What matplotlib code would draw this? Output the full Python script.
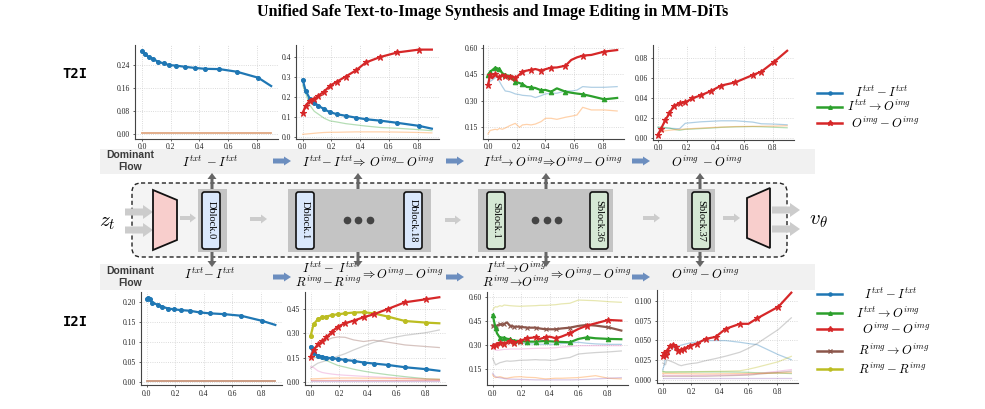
import matplotlib.pyplot as plt
from matplotlib.patches import Rectangle, FancyBboxPatch, Polygon, FancyArrow

plt.rcParams['font.family'] = 'Liberation Serif'
plt.rcParams['mathtext.fontset'] = 'cm'

W, H = 985, 409

# ---------------- data ----------------
mx = [0.0, 0.02, 0.05, 0.08, 0.11, 0.15, 0.19, 0.24, 0.30, 0.37, 0.44, 0.54, 0.66, 0.81, 0.90]

# T2I, Dblock.0
t2i_a_itxt = [0.290, 0.278, 0.267, 0.261, 0.252, 0.246, 0.240, 0.238, 0.234, 0.230, 0.227, 0.226, 0.217, 0.196, 0.167]
t2i_a_rest_x = [0.0, 0.90]
t2i_a_rest = [0.003, 0.003]

# T2I, Dblock.1-18
t2i_b_oimg = [0.120, 0.157, 0.183, 0.190, 0.208, 0.228, 0.257, 0.278, 0.303, 0.333, 0.373, 0.400, 0.423, 0.437, 0.437]
t2i_b_itxt = [0.287, 0.233, 0.192, 0.173, 0.157, 0.140, 0.125, 0.115, 0.107, 0.098, 0.090, 0.083, 0.072, 0.057, 0.043]
t2i_b_i2o = [0.260, 0.220, 0.160, 0.130, 0.115, 0.095, 0.082, 0.076, 0.068, 0.062, 0.056, 0.049, 0.045, 0.038, 0.033]
t2i_b_o2i = [0.015, 0.016, 0.018, 0.020, 0.022, 0.024, 0.025, 0.025, 0.026, 0.027, 0.027, 0.027, 0.026, 0.024, 0.022]

# T2I, Sblock.1-36
t2i_c_x = [0.0, 0.015, 0.03, 0.05, 0.065, 0.08, 0.10, 0.12, 0.15, 0.17, 0.19, 0.22, 0.24, 0.27,
           0.30, 0.33, 0.37, 0.40, 0.44, 0.48, 0.54, 0.58, 0.62, 0.66, 0.72, 0.81, 0.90]
t2i_c_marks = [0.0, 0.015, 0.05, 0.08, 0.12, 0.15, 0.19, 0.24, 0.30, 0.37, 0.44, 0.54, 0.66, 0.81]
t2i_c_oimg = [0.389, 0.447, 0.428, 0.450, 0.437, 0.433, 0.450, 0.440, 0.437, 0.440, 0.428, 0.450, 0.466, 0.472,
              0.476, 0.481, 0.472, 0.480, 0.489, 0.490, 0.500, 0.533, 0.548, 0.558, 0.562, 0.581, 0.590]
t2i_c_i2o = [0.447, 0.466, 0.475, 0.489, 0.485, 0.480, 0.457, 0.447, 0.441, 0.425, 0.409, 0.400, 0.395, 0.378,
             0.376, 0.372, 0.359, 0.361, 0.351, 0.370, 0.351, 0.345, 0.340, 0.336, 0.325, 0.307, 0.315]
t2i_c_itxt = [0.399, 0.410, 0.418, 0.430, 0.437, 0.409, 0.380, 0.355, 0.351, 0.345, 0.338, 0.334, 0.330, 0.328,
              0.326, 0.317, 0.328, 0.338, 0.342, 0.342, 0.355, 0.355, 0.360, 0.380, 0.376, 0.376, 0.380]
t2i_c_o2i = [0.108, 0.128, 0.131, 0.135, 0.132, 0.140, 0.135, 0.142, 0.155, 0.162, 0.169, 0.146, 0.160, 0.163,
             0.160, 0.165, 0.179, 0.198, 0.198, 0.192, 0.204, 0.210, 0.217, 0.261, 0.246, 0.246, 0.240]

# T2I, Sblock.37
t2i_d_x = [0.0, 0.02, 0.05, 0.08, 0.11, 0.15, 0.19, 0.24, 0.30, 0.37, 0.44, 0.54, 0.66, 0.72, 0.81, 0.90]
t2i_d_oimg = [0.0033, 0.009, 0.0177, 0.025, 0.0323, 0.035, 0.0357, 0.040, 0.043, 0.0473, 0.0527, 0.056, 0.0633, 0.0667, 0.0767, 0.0877]
t2i_d_itxt = [0.0105, 0.0102, 0.010, 0.0098, 0.0096, 0.0093, 0.0148, 0.0155, 0.0163, 0.0168, 0.0173, 0.0173, 0.016, 0.0143, 0.014, 0.0133]
t2i_d_i2o = [0.011, 0.0108, 0.0105, 0.010, 0.0088, 0.0077, 0.0088, 0.009, 0.0095, 0.010, 0.0107, 0.0112, 0.0115, 0.0113, 0.0108, 0.0103]
t2i_d_o2i = [0.005, 0.006, 0.0073, 0.0078, 0.0082, 0.0087, 0.009, 0.0095, 0.010, 0.0105, 0.011, 0.0115, 0.0117, 0.0118, 0.012, 0.0123]

# I2I, Dblock.0
i2i_a_x = [0.0, 0.01, 0.02, 0.04, 0.08, 0.11, 0.15, 0.19, 0.24, 0.30, 0.37, 0.44, 0.54, 0.66, 0.81, 0.90]
i2i_a_itxt = [0.208, 0.210, 0.206, 0.1975, 0.192, 0.1875, 0.183, 0.181, 0.179, 0.1775, 0.1733, 0.171, 0.169, 0.165, 0.152, 0.142]
i2i_a_rest_x = [0.0, 0.90]
i2i_a_rest = [0.002, 0.002]

# I2I, Dblock.1-18
i2i_b_oimg = [0.1575, 0.198, 0.233, 0.252, 0.275, 0.311, 0.342, 0.362, 0.378, 0.399, 0.417, 0.450, 0.491, 0.510, 0.522]
i2i_b_rimg = [0.286, 0.356, 0.387, 0.399, 0.403, 0.413, 0.417, 0.423, 0.428, 0.430, 0.423, 0.403, 0.376, 0.366, 0.362]
i2i_b_itxt = [0.219, 0.178, 0.164, 0.1575, 0.151, 0.147, 0.143, 0.137, 0.131, 0.121, 0.115, 0.106, 0.092, 0.080, 0.070]
i2i_b_r2o = [0.178, 0.195, 0.219, 0.240, 0.258, 0.272, 0.278, 0.276, 0.260, 0.250, 0.258, 0.246, 0.229, 0.219, 0.213]
i2i_b_gray = [0.086, 0.100, 0.117, 0.125, 0.133, 0.145, 0.160, 0.175, 0.198, 0.222, 0.244, 0.268, 0.288, 0.305, 0.321]
i2i_b_i2o = [0.158, 0.155, 0.151, 0.142, 0.133, 0.118, 0.103, 0.093, 0.080, 0.068, 0.058, 0.046, 0.034, 0.021, 0.018]
i2i_b_pink = [0.096, 0.090, 0.070, 0.060, 0.055, 0.050, 0.046, 0.043, 0.040, 0.036, 0.033, 0.029, 0.025, 0.019, 0.016]
i2i_b_o2i = [0.020, 0.021, 0.022, 0.023, 0.024, 0.025, 0.026, 0.026, 0.026, 0.025, 0.025, 0.024, 0.022, 0.019, 0.018]
i2i_b_flat_x = [0.0, 0.90]
i2i_b_purple = [0.008, 0.008]
i2i_b_salmon = [0.012, 0.012]

# I2I, Sblock.1-36
i2i_c_x = [0.0, 0.01, 0.02, 0.03, 0.05, 0.065, 0.08, 0.10, 0.12, 0.15, 0.19, 0.24, 0.30, 0.33,
           0.37, 0.40, 0.44, 0.48, 0.54, 0.60, 0.66, 0.72, 0.81, 0.90]
i2i_c_marks = [0.0, 0.02, 0.05, 0.08, 0.12, 0.15, 0.19, 0.24, 0.30, 0.37, 0.44, 0.54, 0.66, 0.81]
i2i_c_oimg = [0.295, 0.303, 0.299, 0.305, 0.310, 0.314, 0.308, 0.316, 0.324, 0.314, 0.324, 0.341, 0.347, 0.337,
              0.347, 0.351, 0.341, 0.351, 0.372, 0.399, 0.420, 0.434, 0.455, 0.451]
i2i_c_i2o = [0.486, 0.445, 0.403, 0.372, 0.345, 0.345, 0.345, 0.338, 0.335, 0.326, 0.324, 0.320, 0.320, 0.322,
             0.324, 0.322, 0.320, 0.318, 0.316, 0.337, 0.347, 0.341, 0.337, 0.335]
i2i_c_r2o = [0.420, 0.420, 0.418, 0.420, 0.428, 0.425, 0.430, 0.440, 0.420, 0.413, 0.413, 0.407, 0.407, 0.402,
             0.397, 0.397, 0.397, 0.402, 0.407, 0.418, 0.424, 0.420, 0.409, 0.389]
i2i_c_rimg = [0.517, 0.530, 0.538, 0.535, 0.544, 0.540, 0.548, 0.546, 0.544, 0.542, 0.540, 0.542, 0.544, 0.546,
              0.546, 0.548, 0.550, 0.555, 0.559, 0.579, 0.577, 0.575, 0.569, 0.565]
i2i_c_itxt = [0.310, 0.305, 0.303, 0.300, 0.303, 0.305, 0.306, 0.308, 0.310, 0.310, 0.310, 0.308, 0.305, 0.304,
              0.303, 0.303, 0.305, 0.308, 0.312, 0.316, 0.310, 0.306, 0.303, 0.303]
i2i_c_pink = [0.279, 0.272, 0.268, 0.266, 0.268, 0.270, 0.272, 0.272, 0.274, 0.274, 0.274, 0.276, 0.278, 0.279,
              0.279, 0.280, 0.282, 0.286, 0.290, 0.295, 0.295, 0.295, 0.295, 0.295]
i2i_c_gray = [0.216, 0.195, 0.175, 0.180, 0.189, 0.192, 0.196, 0.200, 0.198, 0.200, 0.204, 0.205, 0.208, 0.206,
              0.206, 0.204, 0.206, 0.214, 0.221, 0.243, 0.248, 0.252, 0.256, 0.262]
i2i_c_o2i = [0.113, 0.100, 0.096, 0.098, 0.102, 0.098, 0.094, 0.092, 0.096, 0.100, 0.102, 0.098, 0.096, 0.092,
             0.088, 0.090, 0.092, 0.092, 0.094, 0.096, 0.102, 0.108, 0.092, 0.088]
i2i_c_purple = [0.123, 0.110, 0.102, 0.098, 0.095, 0.093, 0.090, 0.088, 0.087, 0.086, 0.085, 0.084, 0.082, 0.082,
                0.082, 0.082, 0.082, 0.082, 0.082, 0.083, 0.085, 0.088, 0.092, 0.096]

# I2I, Sblock.37
i2i_d_x = [0.0, 0.01, 0.02, 0.03, 0.05, 0.07, 0.09, 0.11, 0.13, 0.15, 0.19, 0.24, 0.30, 0.37, 0.44, 0.54, 0.60, 0.66, 0.81, 0.90]
i2i_d_marks = [0.0, 0.01, 0.02, 0.03, 0.05, 0.07, 0.09, 0.11, 0.13, 0.15, 0.19, 0.24, 0.30, 0.37, 0.44, 0.54, 0.66, 0.81]
i2i_d_oimg = [0.0298, 0.034, 0.0319, 0.036, 0.0434, 0.0447, 0.0417, 0.037, 0.0383, 0.0396, 0.0434, 0.046, 0.0519, 0.0545, 0.0647, 0.0711, 0.0711, 0.0779, 0.0928, 0.1106]
i2i_d_itxt = [0.0128, 0.018, 0.0277, 0.030, 0.036, 0.040, 0.0417, 0.043, 0.044, 0.045, 0.0468, 0.048, 0.0498, 0.0498, 0.0498, 0.0477, 0.046, 0.0447, 0.0319, 0.0255]
i2i_d_gray = [0.0213, 0.020, 0.0191, 0.0255, 0.024, 0.0226, 0.021, 0.0191, 0.018, 0.019, 0.0204, 0.0215, 0.0243, 0.027, 0.030, 0.035, 0.040, 0.046, 0.064, 0.0787]
i2i_d_rimg = [0.0098, 0.0098, 0.0098, 0.0098, 0.0098, 0.0098, 0.0099, 0.010, 0.010, 0.010, 0.0102, 0.0104, 0.0106, 0.0108, 0.011, 0.0115, 0.0135, 0.016, 0.023, 0.0298]
i2i_d_i2o = [0.011, 0.0105, 0.010, 0.010, 0.010, 0.010, 0.010, 0.010, 0.010, 0.010, 0.010, 0.010, 0.010, 0.010, 0.010, 0.0098, 0.0095, 0.009, 0.0085, 0.008]
i2i_d_pink = [0.006, 0.0058, 0.0056, 0.0055, 0.0055, 0.0055, 0.0055, 0.0055, 0.0055, 0.0055, 0.0055, 0.0056, 0.0058, 0.006, 0.0062, 0.0065, 0.007, 0.008, 0.011, 0.013]
i2i_d_few_x = [0.0, 0.30, 0.60, 0.90]
i2i_d_r2o = [0.0045, 0.0045, 0.006, 0.011]
i2i_d_o2i = [0.008, 0.0075, 0.008, 0.009]
i2i_d_purple = [0.0025, 0.0025, 0.0025, 0.0025]

BLUE, GREEN, RED = '#1f77b4', '#2ca02c', '#d62728'
BROWN, OLIVE, GRAY = '#8c564b', '#bcbd22', '#7f7f7f'
PINK, ORANGE, PURPLE = '#e377c2', '#ff7f0e', '#9467bd'
STY = {BLUE: ('o', 2.8), GREEN: ('^', 3.2), RED: ('*', 4.6), BROWN: ('x', 2.8), OLIVE: ('o', 2.8)}

fig = plt.figure(figsize=(W / 100, H / 100), dpi=100)
ax0 = fig.add_axes([0, 0, 1, 1])
ax0.set_xlim(0, W)
ax0.set_ylim(H, 0)
ax0.axis('off')


def main(ax, x, y, c, marks=None):
    if marks is None:
        idx = list(range(len(x) - 1))
    else:
        idx = [i for i, v in enumerate(x) if v in marks]
    mk, ms = STY[c]
    ax.plot(x, y, color=c, lw=1.6, marker=mk, ms=ms, mew=0.8, markevery=idx, zorder=4)


def faint(ax, x, y, c, a=0.35):
    ax.plot(x, y, color=c, lw=0.9, alpha=a, zorder=2)


def panel(left, x0, top, bot, scale, ylim, yticks, fmt):
    right = x0 + 0.95 * scale
    ax = fig.add_axes([left / W, 1 - bot / H, (right - left) / W, (bot - top) / H])
    ax.set_facecolor('none')
    ax.set_xlim(-(x0 - left) / scale, 0.95)
    ax.set_ylim(*ylim)
    ax.set_xticks([0.0, 0.2, 0.4, 0.6, 0.8])
    ax.set_xticklabels(['0.0', '0.2', '0.4', '0.6', '0.8'])
    ax.set_yticks(yticks)
    ax.set_yticklabels([fmt.format(v) for v in yticks])
    for s in ['top', 'right']:
        ax.spines[s].set_visible(False)
    for s in ['left', 'bottom']:
        ax.spines[s].set_color('#444444')
        ax.spines[s].set_linewidth(0.8)
    ax.grid(True, ls=':', color='#cfcfcf', lw=0.6)
    ax.tick_params(length=1.5, width=0.5, labelsize=5.5, pad=2, colors='#222222')
    return ax


# ---------------- top row (T2I) ----------------
a1 = panel(135, 142, 45, 138.5, 143.5, (-0.0157, 0.31), [0.0, 0.08, 0.16, 0.24], '{:.2f}')
a1.plot(t2i_a_rest_x, t2i_a_rest, color='#e0a882', lw=1.3, zorder=2)
main(a1, mx, t2i_a_itxt, BLUE)

a2 = panel(296, 302.7, 45, 138.5, 143.5, (-0.006, 0.46), [0.0, 0.1, 0.2, 0.3, 0.4], '{:.1f}')
faint(a2, mx, t2i_b_i2o, GREEN)
faint(a2, mx, t2i_b_o2i, ORANGE)
main(a2, mx, t2i_b_itxt, BLUE)
main(a2, mx, t2i_b_oimg, RED)

a3 = panel(483, 488, 45, 138.5, 143.5, (0.082, 0.619), [0.15, 0.30, 0.45, 0.60], '{:.2f}')
faint(a3, t2i_c_x, t2i_c_itxt, BLUE)
faint(a3, t2i_c_x, t2i_c_o2i, ORANGE)
main(a3, t2i_c_x, t2i_c_i2o, GREEN, t2i_c_marks)
main(a3, t2i_c_x, t2i_c_oimg, RED, t2i_c_marks)

a4 = panel(653, 658, 45, 139.5, 143.5, (-0.0015, 0.0935), [0.0, 0.02, 0.04, 0.06, 0.08], '{:.2f}')
faint(a4, t2i_d_x, t2i_d_itxt, BLUE)
faint(a4, t2i_d_x, t2i_d_i2o, GREEN)
faint(a4, t2i_d_x, t2i_d_o2i, ORANGE)
main(a4, t2i_d_x, t2i_d_oimg, RED)

# ---------------- bottom row (I2I) ----------------
b1 = panel(140.7, 146.7, 291.7, 385, 142.9, (-0.008, 0.225), [0.0, 0.05, 0.10, 0.15, 0.20], '{:.2f}')
b1.plot(i2i_a_rest_x, i2i_a_rest, color='#c8947a', lw=1.3, zorder=2)
main(b1, i2i_a_x, i2i_a_itxt, BLUE)

b2 = panel(305, 310.7, 291.7, 385, 142.9, (-0.017, 0.556), [0.0, 0.15, 0.30, 0.45], '{:.2f}')
faint(b2, mx, i2i_b_r2o, BROWN)
faint(b2, mx, i2i_b_gray, GRAY)
faint(b2, mx, i2i_b_i2o, GREEN)
faint(b2, mx, i2i_b_pink, PINK)
faint(b2, mx, i2i_b_o2i, ORANGE)
faint(b2, i2i_b_flat_x, i2i_b_purple, PURPLE)
faint(b2, i2i_b_flat_x, i2i_b_salmon, RED)
main(b2, mx, i2i_b_itxt, BLUE)
main(b2, mx, i2i_b_rimg, OLIVE)
main(b2, mx, i2i_b_oimg, RED)

b3 = panel(487, 492.7, 291.7, 385, 142.9, (0.05, 0.631), [0.15, 0.30, 0.45, 0.60], '{:.2f}')
faint(b3, i2i_c_x, i2i_c_rimg, OLIVE)
faint(b3, i2i_c_x, i2i_c_itxt, BLUE)
faint(b3, i2i_c_x, i2i_c_pink, PINK)
faint(b3, i2i_c_x, i2i_c_gray, GRAY)
faint(b3, i2i_c_x, i2i_c_o2i, ORANGE)
faint(b3, i2i_c_x, i2i_c_purple, PURPLE)
main(b3, i2i_c_x, i2i_c_r2o, BROWN, i2i_c_marks)
main(b3, i2i_c_x, i2i_c_i2o, GREEN, i2i_c_marks)
main(b3, i2i_c_x, i2i_c_oimg, RED, i2i_c_marks)

b4 = panel(656.7, 662.7, 290, 383, 142.9, (-0.004, 0.114), [0.0, 0.025, 0.05, 0.075, 0.10], '{:.3f}')
faint(b4, i2i_d_x, i2i_d_itxt, BLUE)
faint(b4, i2i_d_x, i2i_d_gray, GRAY)
faint(b4, i2i_d_x, i2i_d_rimg, OLIVE)
faint(b4, i2i_d_x, i2i_d_i2o, GREEN)
faint(b4, i2i_d_x, i2i_d_pink, PINK)
faint(b4, i2i_d_few_x, i2i_d_r2o, BROWN)
faint(b4, i2i_d_few_x, i2i_d_o2i, ORANGE)
faint(b4, i2i_d_few_x, i2i_d_purple, PURPLE)
main(b4, i2i_d_x, i2i_d_oimg, RED, i2i_d_marks)

# ---------------- legends ----------------
def leg(y, c, label, xc):
    mk, ms = STY[c]
    ax0.plot([817, 829.5, 842], [y, y, y], color=c, lw=1.8, marker=mk, ms=ms * 0.8, markevery=[1])
    ax0.text(xc, y, label, ha='center', va='center', fontsize=9)

leg(92.7, BLUE, r'$I^{txt}-I^{txt}$', 882)
leg(106.7, GREEN, r'$I^{txt}\rightarrow O^{img}$', 879)
leg(123.3, RED, r'$O^{img}-O^{img}$', 885)

leg(294, BLUE, r'$I^{txt}-I^{txt}$', 891)
leg(313.3, GREEN, r'$I^{txt}\rightarrow O^{img}$', 888)
leg(329, RED, r'$O^{img}-O^{img}$', 896)
leg(350.7, BROWN, r'$R^{img}\rightarrow O^{img}$', 894)
leg(369.3, OLIVE, r'$R^{img}-R^{img}$', 892)

# ---------------- title and row labels ----------------
ax0.text(W / 2, 12, 'Unified Safe Text-to-Image Synthesis and Image Editing in MM-DiTs',
         ha='center', va='center', fontsize=11.5, fontweight='bold')
ax0.text(75, 74, 'T2I', ha='center', va='center', fontsize=10, fontweight='bold', family='DejaVu Sans Mono')
ax0.text(75, 322, 'I2I', ha='center', va='center', fontsize=10, fontweight='bold', family='DejaVu Sans Mono')

# ---------------- diagram ----------------
ax0.add_patch(Rectangle((100, 149), 715, 25, fc='#f1f1f1', ec='none', zorder=0))
ax0.add_patch(Rectangle((100, 264), 715, 26, fc='#f1f1f1', ec='none', zorder=0))
for yy in (161, 277):
    ax0.text(130, yy, 'Dominant\nFlow', ha='center', va='center', fontsize=7.5, fontweight='bold',
             family='Liberation Sans', color='#3a3a3a', linespacing=1.3)
    for xa in (273, 446, 632):
        ax0.add_patch(FancyArrow(xa, yy, 18, 0, width=5, head_width=9, head_length=7,
                                 length_includes_head=True, color='#6c8ebf', lw=0))

fs = 9
ty = 162
ax0.text(210, ty, r'$I^{txt}\;-I^{txt}$', ha='center', va='center', fontsize=fs)
ax0.text(368, ty, r'$I^{txt}\!-I^{txt}\!\Rightarrow\,O^{img}\!\!-O^{img}$', ha='center', va='center', fontsize=fs)
ax0.text(553, ty, r'$I^{txt}\!\!\rightarrow O^{img}\!\Rightarrow\!O^{img}\!-O^{img}$', ha='center', va='center', fontsize=fs)
ax0.text(707, ty, r'$O^{img}\;-O^{img}$', ha='center', va='center', fontsize=fs)

ax0.text(210, 274, r'$I^{txt}\!-I^{txt}$', ha='center', va='center', fontsize=fs)
ax0.text(330, 268, r'$I^{txt}-\;I^{txt}$', ha='center', va='center', fontsize=fs)
ax0.text(328, 282, r'$R^{img}\!-R^{img}$', ha='center', va='center', fontsize=fs)
ax0.text(402, 274, r'$\Rightarrow O^{img}\!-O^{img}$', ha='center', va='center', fontsize=fs)
ax0.text(516, 268, r'$I^{txt}\!\rightarrow\!O^{img}$', ha='center', va='center', fontsize=fs)
ax0.text(516, 282, r'$R^{img}\!\rightarrow\!O^{img}$', ha='center', va='center', fontsize=fs)
ax0.text(590, 274, r'$\Rightarrow O^{img}\!-O^{img}$', ha='center', va='center', fontsize=fs)
ax0.text(705, 274, r'$O^{img}-O^{img}$', ha='center', va='center', fontsize=fs)

ax0.add_patch(FancyBboxPatch((132, 183), 655, 74, boxstyle='round,pad=0,rounding_size=9',
                             fc='#f4f4f4', ec='#222222', lw=1.0, ls=(0, (3, 2)), zorder=1))

for x, w in [(198, 29), (288, 143), (478, 135), (687, 28)]:
    ax0.add_patch(Rectangle((x, 189), w, 63, fc='#c4c4c4', ec='none', zorder=2))

blocks = [(202, 'Dblock.0', '#dae8fc'), (296, 'Dblock.1', '#dae8fc'), (404, 'Dblock.18', '#dae8fc'),
          (487, 'Sblock.1', '#d5e8d4'), (590, 'Sblock.36', '#d5e8d4'), (692, 'Sblock.37', '#d5e8d4')]
for x, name, col in blocks:
    ax0.add_patch(FancyBboxPatch((x, 192), 18, 57, boxstyle='round,pad=0,rounding_size=2.5',
                                 fc=col, ec='#111111', lw=1.2, zorder=3))
    ax0.text(x + 9, 220.5, name, rotation=270, ha='center', va='center', fontsize=7.5, zorder=4)

for xs in ([347, 358, 370], [535, 547, 558]):
    ax0.plot(xs, [220, 220, 220], 'o', color='#444444', ms=4.5, zorder=4)

for xv in (212, 358, 546, 700):
    ax0.add_patch(FancyArrow(xv, 189, 0, -16, width=3, head_width=9, head_length=6,
                             length_includes_head=True, color='#666666', lw=0, zorder=3))
    ax0.add_patch(FancyArrow(xv, 252, 0, 15, width=3, head_width=9, head_length=6,
                             length_includes_head=True, color='#666666', lw=0, zorder=3))

for x1, x2, yy in [(180, 196, 218), (250, 267, 219), (445, 461, 220), (643, 660, 218), (723, 740, 218)]:
    ax0.add_patch(FancyArrow(x1, yy, x2 - x1, 0, width=4, head_width=9, head_length=6,
                             length_includes_head=True, color='#cccccc', lw=0, zorder=3))
for x1, yy in [(125, 212), (125, 230), (772, 210), (772, 229)]:
    ax0.add_patch(FancyArrow(x1, yy, 28, 0, width=7, head_width=14, head_length=10,
                             length_includes_head=True, color='#cccccc', lw=0, zorder=3))

ax0.add_patch(Polygon([(153, 190), (177, 200), (177, 240), (153, 250)], closed=True,
                      fc='#f8cecc', ec='#111111', lw=1.3, zorder=3))
ax0.add_patch(Polygon([(747, 198), (770, 188), (770, 248), (747, 238)], closed=True,
                      fc='#f8cecc', ec='#111111', lw=1.3, zorder=3))
ax0.text(107, 222, r'$z_t$', ha='center', va='center', fontsize=15)
ax0.text(818, 220, r'$v_\theta$', ha='center', va='center', fontsize=15)

fig.savefig('out.png', dpi=100)
